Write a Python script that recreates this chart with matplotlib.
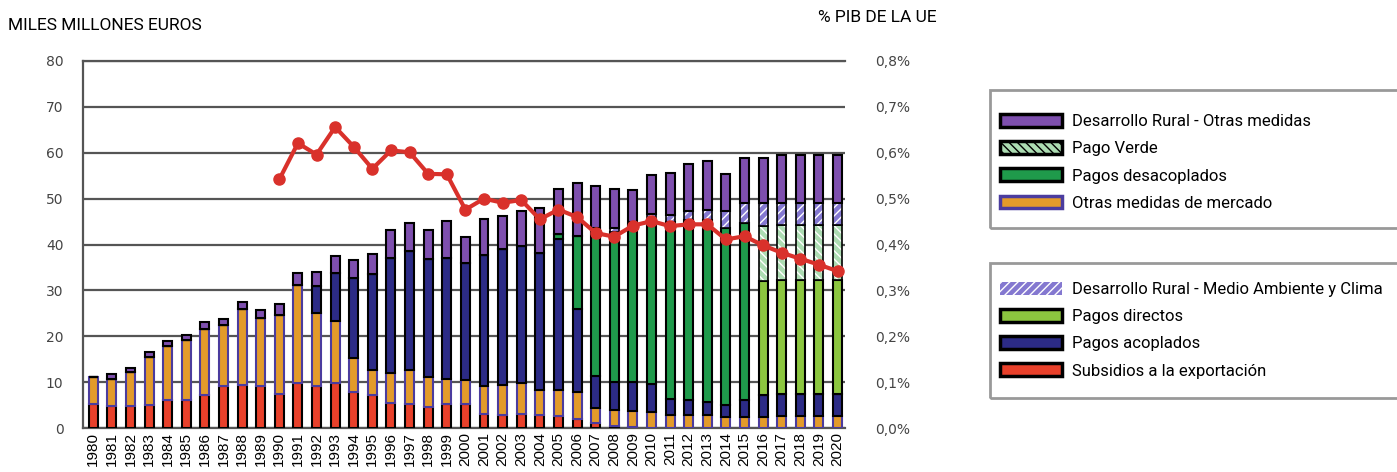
import matplotlib
matplotlib.use("Agg")
from matplotlib import pyplot as plt
from matplotlib.patches import Patch, Rectangle
import numpy as np

years = list(range(1980, 2021))

# miles de millones de euros, por componente (de abajo a arriba)
subsidios = [5.2, 4.8, 4.7, 5.0, 6.1, 6.1, 7.2, 9.1, 9.4, 9.1, 7.5, 9.9, 9.2, 9.8, 7.9, 7.3, 5.5,
             5.3, 4.6, 5.3, 5.3, 3.1, 2.9, 3.1, 2.9, 2.7, 2.0, 1.0, 0.5, 0.2, 0.1, 0, 0, 0, 0, 0,
             0, 0, 0, 0, 0]
otras_mercado = [6.0, 5.8, 7.5, 10.4, 11.8, 13.1, 14.3, 13.3, 16.5, 14.8, 17.1, 21.2, 15.9, 13.5,
                 7.4, 5.4, 6.4, 7.3, 6.5, 5.4, 5.1, 6.0, 6.4, 6.7, 5.3, 5.5, 5.8, 3.3, 3.4, 3.4,
                 3.4, 2.8, 2.9, 2.8, 2.3, 2.5, 2.5, 2.7, 2.7, 2.7, 2.7]
acoplados = [0, 0, 0, 0, 0, 0, 0, 0, 0, 0, 0, 0, 5.8, 10.5, 17.4, 20.8, 25.2, 25.9, 25.8, 26.4,
             25.6, 28.6, 29.8, 29.8, 30.0, 32.9, 18.2, 7.0, 6.1, 6.4, 6.0, 3.5, 3.2, 2.8, 2.7,
             3.5, 4.8, 4.8, 4.8, 4.8, 4.8]
desacoplados = [0] * 25 + [1.1, 15.8, 32.3, 32.8, 34.5, 35.8, 38.6, 39.3, 39.8, 38.7, 38.6,
                           0, 0, 0, 0, 0]
directos = [0] * 36 + [24.7, 24.7, 24.7, 24.7, 24.7]
pago_verde = [0] * 36 + [12.0, 12.0, 12.0, 12.0, 12.0]
dr_clima = [0] * 28 + [0.9, 0.4, 1.3, 1.5, 1.9, 2.2, 3.6, 4.4, 5.0, 4.8, 4.8, 4.8, 4.8]
dr_otras = [0.0, 1.2, 0.8, 1.2, 1.1, 1.1, 1.5, 1.3, 1.6, 1.8, 2.4, 2.7, 3.1, 3.8, 4.0, 4.5, 6.0,
            6.2, 6.2, 8.0, 5.7, 7.9, 7.1, 7.8, 9.8, 9.8, 11.5, 9.1, 8.3, 7.0, 8.5, 9.2, 10.3,
            10.5, 8.1, 9.8, 9.8, 10.5, 10.5, 10.5, 10.5]

# % PIB de la UE (1990-2020)
pib_years = list(range(1990, 2021))
pib_pct = [0.542, 0.621, 0.596, 0.656, 0.613, 0.565, 0.605, 0.601, 0.554, 0.553, 0.476, 0.500,
           0.491, 0.497, 0.455, 0.476, 0.460, 0.425, 0.417, 0.441, 0.451, 0.440, 0.444, 0.444,
           0.411, 0.418, 0.398, 0.382, 0.369, 0.356, 0.342]

series = [
    ("Subsidios a la exportación", subsidios, "#e8402a", "black", None),
    ("Otras medidas de mercado", otras_mercado, "#e39b2a", "#4b3c9e", None),
    ("Pagos acoplados", acoplados, "#2c2b86", "black", None),
    ("Pagos desacoplados", desacoplados, "#1f9a4b", "black", None),
    ("Pagos directos", directos, "#8cc63f", "black", None),
    ("Pago Verde", pago_verde, "#acdcb2", "white", "\\\\\\\\"),
    ("Desarrollo Rural - Medio Ambiente y Clima", dr_clima, "#8478d0", "white", "////"),
    ("Desarrollo Rural - Otras medidas", dr_otras, "#7e4fae", "black", None),
]

W, H = 1397, 472
fig = plt.figure(figsize=(W / 100, H / 100), dpi=100)
fig.patch.set_facecolor("white")
ax = fig.add_axes([83 / W, 1 - 428 / H, (845 - 83) / W, (428 - 61) / H])

x = np.arange(len(years))
bw = 0.48
bottom = np.zeros(len(years))
handles = {}
plt.rcParams["hatch.linewidth"] = 1.0
for name, vals, fc, ec, hatch in series:
    vals = np.array(vals, dtype=float)
    if hatch:
        ax.bar(x, vals, bw, bottom=bottom, color=fc, edgecolor=ec, hatch=hatch, linewidth=0, zorder=3)
        ax.bar(x, vals, bw, bottom=bottom, fill=False, edgecolor="black", linewidth=1.2, zorder=3)
    else:
        ax.bar(x, vals, bw, bottom=bottom, color=fc, edgecolor=ec, linewidth=1.5, zorder=3)
    bottom += vals
    if name == "Desarrollo Rural - Medio Ambiente y Clima":
        handles[name] = Patch(facecolor=fc, edgecolor="white", hatch=hatch, linewidth=0)
    elif name == "Pago Verde":
        handles[name] = Patch(facecolor=fc, edgecolor="black", hatch=hatch, linewidth=2.5)
    else:
        handles[name] = Patch(facecolor=fc, edgecolor=ec, linewidth=2.5)

ax.set_xlim(-0.55, 40.4)
ax.set_ylim(0, 80)
ax.set_yticks(range(0, 81, 10))
ax.set_xticks(x)
ax.set_xticklabels([str(y) for y in years], rotation=90, fontsize=11,
                   family="Liberation Sans")
ax.tick_params(axis="x", length=0, pad=3)
ax.tick_params(axis="y", length=0, pad=14, labelsize=10, labelcolor="#444")
ax.yaxis.grid(True, color="#555", linewidth=1.6)
ax.set_axisbelow(True)
for s in ["top", "bottom", "left"]:
    ax.spines[s].set_color("#555")
    ax.spines[s].set_linewidth(1.6)
ax.spines["right"].set_visible(False)

ax2 = ax.twinx()
xp = [years.index(y) for y in pib_years]
ax2.plot(xp, pib_pct, color="#d9312b", linewidth=3, marker="o", markersize=8, zorder=5)
ax2.set_ylim(0, 0.8)
ax2.set_yticks(np.arange(0, 0.81, 0.1))
ax2.set_yticklabels([f"{v:.1f}%".replace(".", ",") for v in np.arange(0, 0.81, 0.1)])
ax2.tick_params(axis="y", length=0, pad=22, labelsize=10, labelcolor="#444")
for s in ax2.spines.values():
    s.set_visible(False)

title_font = "Roboto"
fig.text(8 / W, 1 - 25 / H, "MILES MILLONES EUROS", fontsize=12.5, family=title_font,
         va="center", ha="left")
fig.text(877 / W, 1 - 18 / H, "% PIB DE LA UE", fontsize=12.5, family=title_font,
         va="center", ha="center")

# cajas de leyenda
for top, bot in [(90, 228), (263, 398)]:
    fig.patches.append(Rectangle((990 / W, 1 - bot / H), 0.4, (bot - top) / H,
                                 transform=fig.transFigure, fill=False,
                                 edgecolor="#999", linewidth=2))

legend1 = ["Desarrollo Rural - Otras medidas", "Pago Verde", "Pagos desacoplados",
           "Otras medidas de mercado"]
legend2 = ["Desarrollo Rural - Medio Ambiente y Clima", "Pagos directos", "Pagos acoplados",
           "Subsidios a la exportación"]
for names, top in [(legend1, 114), (legend2, 282)]:
    fig.legend([handles[n] for n in names], names, loc="upper left",
               bbox_to_anchor=(1000 / W, 1 - top / H), frameon=False, borderpad=0,
               borderaxespad=0, handlelength=3.7, handleheight=0.8, handletextpad=0.6,
               labelspacing=0.72, prop={"family": title_font, "size": 12})

fig.savefig("out.png", dpi=100)
